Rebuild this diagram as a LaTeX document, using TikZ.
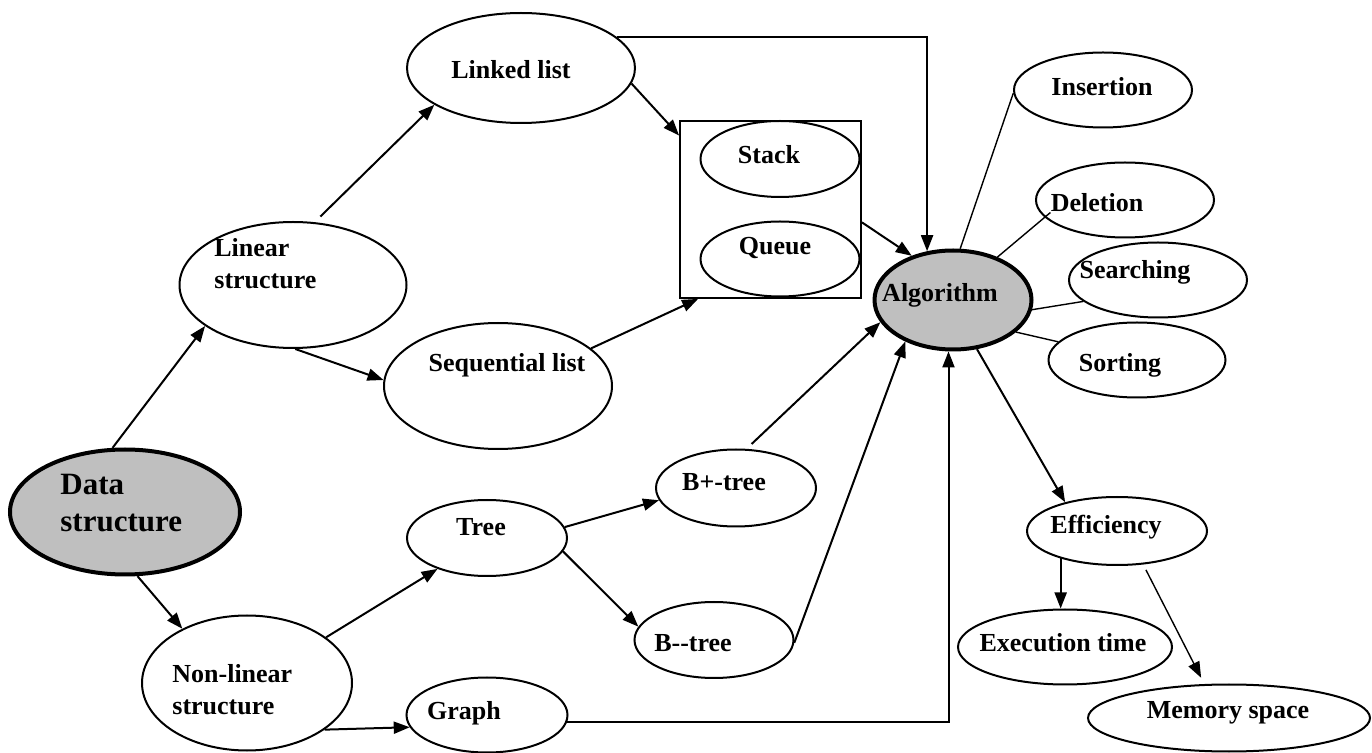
\documentclass[tikz,border=0pt]{standalone}
\usepackage{fontspec}
\setmainfont{Liberation Serif}
\usetikzlibrary{arrows.meta,shapes.geometric}

\tikzset{
  oval/.style={ellipse, draw, line width=1pt, inner sep=0pt},
  hub/.style={oval, fill=black!25, line width=2pt},
  txt/.style={inner sep=0pt, font=\fontsize{13}{16}\selectfont\bfseries},
  arr/.style={line width=1pt, -{Triangle[length=8pt,width=6pt]}},
  link/.style={line width=0.7pt},
}

\begin{document}
\begin{tikzpicture}[x=0.5pt, y=-0.5pt]
        \useasboundingbox (0,0) rectangle (1372,753);
        % Data structure side
            \node[hub, minimum width=115pt, minimum height=62.5pt] (data) at (125,512) {};
            \node[txt, font=\fontsize{15.5}{18.5}\selectfont\bfseries, align=left, anchor=west] (datat) at (60,503) {Data\\structure};
            \node[oval, minimum width=113.5pt, minimum height=63pt] (linear) at (293,285) {};
            \node[txt, align=left, anchor=west] (lineart) at (214,264) {Linear\\structure};
            \node[oval, minimum width=105pt, minimum height=67.5pt] (nonlin) at (247,683) {};
            \node[txt, align=left, anchor=west] (nonlint) at (172,690) {Non-linear\\structure};
        % Linear structures
            \node[oval, minimum width=114pt, minimum height=55pt] (linked) at (521,68) {};
            \node[txt] (linkedt) at (511,70) {Linked list};
            \node[oval, minimum width=114pt, minimum height=63pt] (seq) at (498,386) {};
            \node[txt] (seqt) at (507,365) {Sequential list};
            \node[draw, line width=0.9pt, inner sep=0pt, minimum width=90.5pt, minimum height=88.5pt] (box) at (770.5,209.5) {};
            \node[oval, minimum width=79.5pt, minimum height=38pt] (stack) at (780,159) {};
            \node[txt] (stackt) at (769,155) {Stack};
            \node[oval, minimum width=79.5pt, minimum height=37.5pt] (queue) at (780,259) {};
            \node[txt] (queuet) at (775,248) {Queue};
        % Non-linear structures
            \node[oval, minimum width=80pt, minimum height=38pt] (tree) at (487,538) {};
            \node[txt] (treet) at (481,527) {Tree};
            \node[oval, minimum width=80.5pt, minimum height=37.5pt] (graph) at (487,715) {};
            \node[txt] (grapht) at (464,713) {Graph};
            \node[oval, minimum width=80pt, minimum height=38.5pt] (bplus) at (736,488) {};
            \node[txt] (bplust) at (724,482) {B+-tree};
            \node[oval, minimum width=79.5pt, minimum height=38pt] (bminus) at (714,640) {};
            \node[txt] (bminust) at (693,643) {B-{}-tree};
        % Algorithm side
            \node[hub, minimum width=78.5pt, minimum height=49.5pt] (algo) at (953,300) {};
            \node[txt] (algot) at (940,295) {Algorithm};
            \node[oval, minimum width=89pt, minimum height=37.5pt] (ins) at (1103,90) {};
            \node[txt] (inst) at (1102,87) {Insertion};
            \node[oval, minimum width=89pt, minimum height=37.5pt] (del) at (1125,200) {};
            \node[txt] (delt) at (1097,203) {Deletion};
            \node[oval, minimum width=89pt, minimum height=37.5pt] (srch) at (1158,280) {};
            \node[txt] (srcht) at (1135,272) {Searching};
            \node[oval, minimum width=88.5pt, minimum height=37.5pt] (sort) at (1137,360) {};
            \node[txt] (sortt) at (1120,365) {Sorting};
            \node[oval, minimum width=90pt, minimum height=34pt] (eff) at (1117,531) {};
            \node[txt] (efft) at (1106,527) {Efficiency};
            \node[oval, minimum width=107pt, minimum height=37.5pt] (exec) at (1065,647) {};
            \node[txt] (exect) at (1063,643) {Execution time};
            \node[oval, minimum width=141pt, minimum height=33.5pt] (mem) at (1229,718) {};
            \node[txt] (memt) at (1228,713) {Memory space};
        % Arrows
            \draw[arr] (data.101) -- (linear.205);
            \draw[arr] (data.-79) -- (nonlin.140);
            \draw[arr, shorten <=4pt] (linear.71) -- (linked.203);
            \draw[arr] (linear.-88) -- (seq.177);
            \draw[arr] (linked.-8) -- (box.141);
            \draw[arr] (linked.18) -| (algo.118);
            \draw[arr] (box.-8) -- (algo.133);
            \draw[arr] (seq.22) -- (box.-129);
            \draw[arr] (nonlin.30) -- (tree.212);
            \draw[arr] (nonlin.-31) -- (graph.189);
            \draw[arr] (tree.8) -- (bplus.189);
            \draw[arr] (tree.-10) -- (bminus.170);
            \draw[arr, shorten <=3.5pt] (bplus.75) -- (algo.197);
            \draw[arr] (bminus.-2) -- (algo.221);
            \draw[arr] (graph.-5) -| (algo.-95);
            \draw[arr] (algo.-64) -- (eff.151);
            \draw[arr] (eff.206) -- (eff.206 |- exec.north);
            \draw[arr, line width=0.7pt, shorten <=3pt, shorten >=3.5pt] (eff.-52) -- (mem.126);
        % Plain lines to operations
            \draw[link] (algo.82) -- (ins.182);
            \draw[link] (algo.44) -- (delt.south west);
            \draw[link] (algo.-7) -- (srch.196);
            \draw[link] (algo.-27) -- (sort.167);
\end{tikzpicture}
\end{document}
